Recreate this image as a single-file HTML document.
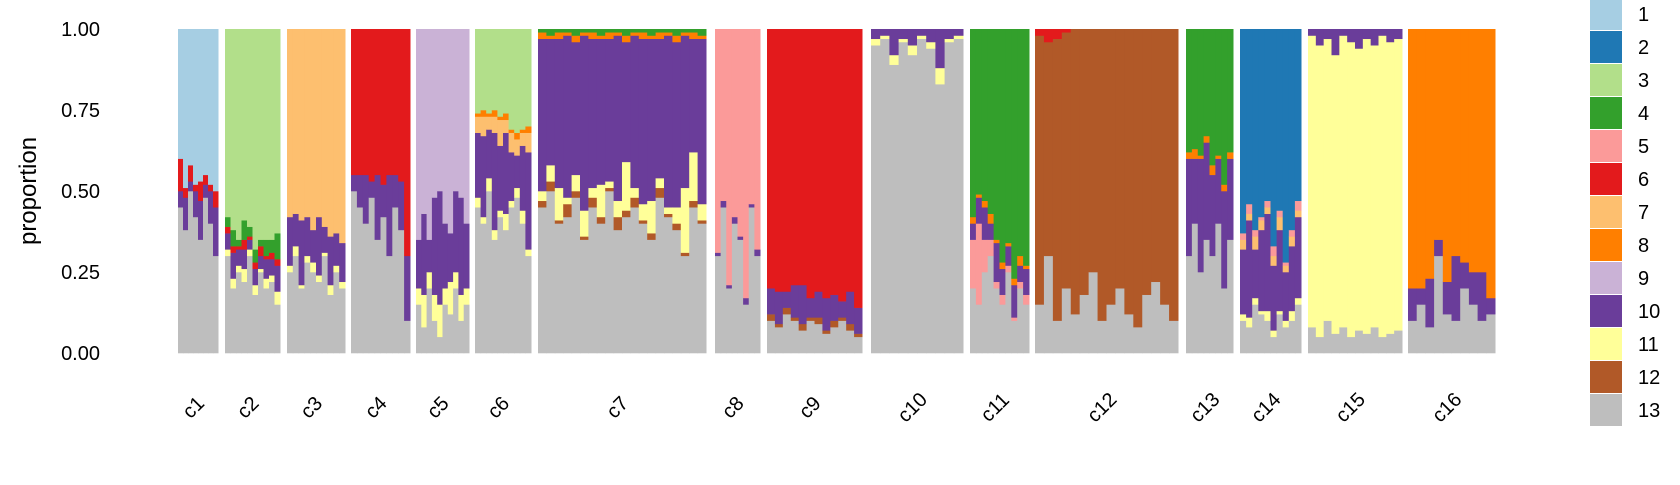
<!DOCTYPE html>
<html><head><meta charset="utf-8"><style>
body{margin:0;background:#fff;width:1680px;height:480px;overflow:hidden;font-family:"Liberation Sans",sans-serif}
</style></head><body>
<svg id="chart" width="1680" height="480" xmlns="http://www.w3.org/2000/svg" font-family="Liberation Sans, sans-serif"></svg>
<script>
const colors=["#A6CEE3","#1F78B4","#B2DF8A","#33A02C","#FB9A99","#E31A1C","#FDBF6F","#FF7F00","#CAB2D6","#6A3D9A","#FFFF99","#B15928","#BEBEBE"];
const clusterNames=["c1","c2","c3","c4","c5","c6","c7","c8","c9","c10","c11","c12","c13","c14","c15","c16"];
const yTicks=[0,0.25,0.5,0.75,1];
const yTickLabels=["0.00","0.25","0.50","0.75","1.00"];
const c1={order:[13,10,6,1],rest:1,v:{13:[0.45,0.38,0.5,0.42,0.35,0.48,0.4,0.3],10:[0.05,0.1,0.03,0.08,0.12,0.04,0.1,0.15],6:[0.1,0.03,0.05,0.02,0.06,0.03,0.02,0.05]}};
const c2={order:[13,11,10,6,4,3],rest:3,v:{13:[0.3,0.2,0.25,0.22,0.3,0.18,0.25,0.2,0.22,0.15],11:[0.02,0.03,0.02,0.04,0.02,0.03,0.01,0.03,0.02,0.04],10:[0.05,0.08,0.05,0.06,0.03,0.05,0.04,0.06,0.05,0.08],6:[0.02,0.02,0.01,0.03,0.01,0.02,0.03,0.01,0.02,0.02],4:[0.03,0.05,0.02,0.06,0.03,0.04,0.02,0.05,0.04,0.08]}};
const c3={order:[13,11,10,7],rest:7,v:{13:[0.25,0.3,0.2,0.28,0.25,0.22,0.3,0.18,0.25,0.2],11:[0.02,0.03,0.01,0.02,0.03,0.02,0.01,0.03,0.02,0.02],10:[0.15,0.1,0.2,0.12,0.1,0.18,0.08,0.15,0.1,0.12]}};
const c4={order:[13,10,6],rest:6,v:{13:[0.5,0.45,0.4,0.48,0.35,0.42,0.3,0.45,0.38,0.1],10:[0.05,0.1,0.15,0.05,0.2,0.1,0.25,0.1,0.15,0.2]}};
const c5={order:[13,11,10,9],rest:9,v:{13:[0.15,0.08,0.2,0.1,0.05,0.15,0.12,0.2,0.1,0.15],11:[0.05,0.1,0.05,0.08,0.1,0.05,0.1,0.05,0.08,0.05],10:[0.15,0.25,0.1,0.3,0.35,0.2,0.15,0.25,0.3,0.2]}};
const c6={order:[13,11,10,7,8,3],rest:3,v:{13:[0.45,0.4,0.5,0.35,0.42,0.38,0.45,0.48,0.4,0.3],11:[0.03,0.02,0.04,0.03,0.02,0.05,0.02,0.03,0.04,0.02],10:[0.2,0.25,0.15,0.3,0.2,0.25,0.15,0.1,0.2,0.3],7:[0.05,0.06,0.04,0.05,0.08,0.04,0.06,0.05,0.04,0.06],8:[0.01,0.02,0.01,0.02,0.01,0.02,0.01,0.02,0.01,0.02]}};
const c7={order:[13,12,11,10,8,4],rest:10,v:{13:[0.45,0.5,0.4,0.42,0.48,0.35,0.45,0.4,0.5,0.38,0.42,0.45,0.4,0.35,0.48,0.42,0.38,0.3,0.45,0.4],12:[0.02,0.03,0.01,0.04,0.02,0.01,0.03,0.02,0.01,0.04,0.02,0.03,0.01,0.02,0.03,0.01,0.02,0.01,0.02,0.01],11:[0.03,0.05,0.1,0.02,0.05,0.08,0.03,0.1,0.02,0.05,0.15,0.03,0.05,0.1,0.03,0.02,0.05,0.2,0.15,0.05],8:[0.02,0.01,0.02,0.01,0.02,0.01,0.02,0.01,0.02,0.01,0.02,0.01,0.02,0.01,0.02,0.01,0.02,0.01,0.02,0.01],4:[0.01,0.02,0.01,0.01,0.02,0.01,0.01,0.02,0.01,0.01,0.02,0.01,0.01,0.02,0.01,0.01,0.02,0.01,0.01,0.02]}};
const c8={order:[13,10,5],rest:5,v:{13:[0.3,0.45,0.2,0.4,0.35,0.15,0.45,0.3],10:[0.01,0.02,0.01,0.02,0.01,0.02,0.01,0.02]}};
const c9={order:[13,12,10,6],rest:6,v:{13:[0.1,0.08,0.12,0.1,0.07,0.1,0.09,0.06,0.08,0.1,0.07,0.05],12:[0.02,0.01,0.02,0.01,0.02,0.01,0.02,0.01,0.02,0.01,0.02,0.01],10:[0.08,0.1,0.05,0.1,0.12,0.06,0.08,0.1,0.08,0.05,0.1,0.08]}};
const c10={order:[13,11,10],rest:13,v:{11:[0.02,0.01,0.03,0.01,0.03,0.01,0.02,0.05,0.01,0.01],10:[0.03,0.02,0.08,0.03,0.05,0.02,0.04,0.12,0.03,0.02]}};
const c11={order:[13,5,10,8,4],rest:4,v:{13:[0.2,0.15,0.25,0.3,0.2,0.15,0.25,0.1,0.2,0.15],5:[0.15,0.25,0.1,0.05,0.02,0.03,0.02,0.01,0.02,0.03],10:[0.05,0.08,0.1,0.05,0.12,0.08,0.06,0.1,0.05,0.08],8:[0.02,0.01,0.02,0.03,0.01,0.02,0.01,0.02,0.03,0.01]}};
const c12={order:[13,12,6],rest:12,v:{13:[0.15,0.3,0.1,0.2,0.12,0.18,0.25,0.1,0.15,0.2,0.12,0.08,0.18,0.22,0.15,0.1],6:[0.02,0.04,0.03,0.01,0,0,0,0,0,0,0,0,0,0,0,0]}};
const c13={order:[13,10,8,4],rest:4,v:{13:[0.3,0.4,0.25,0.35,0.3,0.4,0.2,0.35],10:[0.3,0.2,0.35,0.3,0.25,0.2,0.3,0.25],8:[0.02,0.03,0.01,0.02,0.03,0.01,0.02,0.02]}};
const c14={order:[13,11,10,7,5,2],rest:2,v:{13:[0.1,0.08,0.15,0.12,0.1,0.05,0.12,0.08,0.1,0.15],11:[0.02,0.03,0.02,0.01,0.03,0.02,0.01,0.02,0.03,0.02],10:[0.2,0.3,0.15,0.25,0.3,0.2,0.25,0.15,0.2,0.25],7:[0.03,0.02,0.04,0.03,0.02,0.03,0.04,0.02,0.03,0.02],5:[0.02,0.03,0.02,0.01,0.02,0.03,0.02,0.01,0.02,0.03]}};
const c15={order:[13,11,10],rest:11,v:{13:[0.08,0.05,0.1,0.06,0.08,0.05,0.07,0.06,0.08,0.05,0.06,0.07],10:[0.02,0.05,0.03,0.08,0.02,0.04,0.06,0.03,0.05,0.02,0.04,0.03]}};
const c16={order:[13,10,8],rest:8,v:{13:[0.1,0.15,0.08,0.3,0.12,0.1,0.2,0.15,0.1,0.12],10:[0.1,0.05,0.15,0.05,0.1,0.2,0.08,0.1,0.15,0.05]}};
const clusters=[c1,c2,c3,c4,c5,c6,c7,c8,c9,c10,c11,c12,c13,c14,c15,c16];
const panelX=[[178,218],[225,280],[287,345],[351,410],[416,469],[475,531],[538,706],[715,760],[767,862],[871,963],[970,1029],[1035,1178],[1186,1233],[1240,1301],[1308,1402],[1408,1495]];
const Y0=353,Y1=29;
const y=v=>Y0-(Y0-Y1)*v;
const svg=document.getElementById('chart');
const NS="http://www.w3.org/2000/svg";
function mk(t,a,p){const e=document.createElementNS(NS,t);for(const k in a)e.setAttribute(k,a[k]);(p||svg).appendChild(e);return e;}
clusters.forEach((cl,ci)=>{
  const g=mk('g',{});
  
  
  const [x0,x1]=panelX[ci];
  const keys=Object.keys(cl.v);
  const n=cl.v[keys[0]].length;
  const w=(x1-x0)/n;
  for(let i=0;i<n;i++){
    let sumOthers=0;
    cl.order.forEach(k=>{if(k!==cl.rest)sumOthers+=(cl.v[k]?cl.v[k][i]:0);});
    let cum=0;
    cl.order.forEach(k=>{
      const val=k===cl.rest?Math.max(0,1-sumOthers):(cl.v[k]?cl.v[k][i]:0);
      if(val<=0)return;
      const r=mk('rect',{x:x0+i*w,y:y(cum+val),width:w+0.5,height:y(cum)-y(cum+val)+0.3,fill:colors[k-1]},g);
      
      
      cum+=val;
    });
  }
  const t=mk('text',{x:0,y:0,'font-size':20,'text-anchor':'middle',transform:`translate(${(x0+x1)/2},${412}) rotate(-45)`});
  t.textContent=clusterNames[ci];
  
  
});
yTicks.forEach((v,i)=>{
  const t=mk('text',{x:100,y:y(v)+7,'font-size':20,'text-anchor':'end'});
  t.textContent=yTickLabels[i];
  
  
});
const yt=mk('text',{x:0,y:0,'font-size':24,'text-anchor':'middle',transform:'translate(36,191) rotate(-90)'});
yt.textContent='proportion';


colors.forEach((c,i)=>{
  const g=mk('g',{});
  
  
  mk('rect',{x:1590,y:-2+33*i,width:32,height:32,fill:c},g);
  const t=mk('text',{x:1638,y:-2+33*i+23,'font-size':20},g);
  t.textContent=String(i+1);
});
</script>
</body></html>
